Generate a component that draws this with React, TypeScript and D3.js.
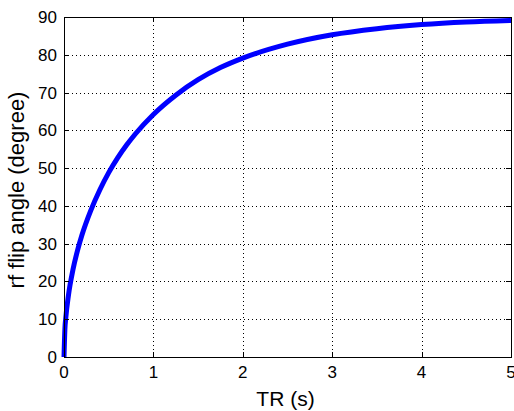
import React, { useEffect, useRef } from 'react';
import * as d3 from 'd3';

// TR (s) and flip angle (degree)
const trValues = [0, 0.01, 0.02, 0.05, 0.1, 0.15, 0.2, 0.3, 0.4, 0.5, 0.6, 0.7, 0.8, 1.0, 1.25, 1.5, 1.75, 2.0, 2.5, 3.0, 3.5, 4.0, 4.5, 5.0];
const angleValues = [0, 7.4, 10.4, 16.4, 23.1, 28.1, 32.2, 38.8, 44.2, 48.8, 52.7, 56.1, 59.1, 64.2, 69.3, 73.4, 76.6, 79.1, 82.8, 85.3, 86.9, 88.0, 88.7, 89.1];
const xTicks = [0, 1, 2, 3, 4, 5];
const yTicks = [0, 10, 20, 30, 40, 50, 60, 70, 80, 90];

const App = () => {
  const svgRef = useRef<SVGSVGElement>(null);

  useEffect(() => {
    const W = 514;
    const H = 411;
    const margin = { top: 17, right: 3, bottom: 54, left: 64 };
    const width = W - margin.left - margin.right;
    const height = H - margin.top - margin.bottom;

    const root = d3.select(svgRef.current);
    root.selectAll('*').remove();
    const svg = root.append('g').attr('transform', `translate(${margin.left},${margin.top})`);

    const x = d3.scaleLinear().domain([0, 5]).range([0, width]);
    const y = d3.scaleLinear().domain([0, 90]).range([height, 0]);
    const font = 'Liberation Sans, Arial, sans-serif';

    // dotted grid
    svg.selectAll('.gx').data(xTicks.slice(1, -1)).enter().append('line')
      .attr('x1', d => Math.round(x(d)) + 0.5).attr('x2', d => Math.round(x(d)) + 0.5)
      .attr('y1', 0).attr('y2', height)
      .attr('stroke', '#000').attr('stroke-width', 1).attr('stroke-dasharray', '1,3');
    svg.selectAll('.gy').data(yTicks.slice(1, -1)).enter().append('line')
      .attr('y1', d => Math.round(y(d)) + 0.5).attr('y2', d => Math.round(y(d)) + 0.5)
      .attr('x1', 0).attr('x2', width)
      .attr('stroke', '#000').attr('stroke-width', 1).attr('stroke-dasharray', '1,3');

    // curve
    const data = trValues.map((t, i) => ({ t, a: angleValues[i] }));
    const line = d3.line<{ t: number; a: number }>()
      .x(d => x(d.t))
      .y(d => y(d.a))
      .curve(d3.curveMonotoneX);
    svg.append('path').datum(data)
      .attr('d', line)
      .attr('fill', 'none')
      .attr('stroke', '#0000ff')
      .attr('stroke-width', 5);

    // box
    svg.append('rect')
      .attr('x', 0.5).attr('y', 0.5)
      .attr('width', width).attr('height', height)
      .attr('fill', 'none').attr('stroke', '#000').attr('stroke-width', 1);

    // inward ticks on all sides
    const tl = 5;
    xTicks.forEach(d => {
      const px = Math.round(x(d)) + 0.5;
      svg.append('line').attr('x1', px).attr('x2', px).attr('y1', height).attr('y2', height - tl).attr('stroke', '#000');
      svg.append('line').attr('x1', px).attr('x2', px).attr('y1', 0).attr('y2', tl).attr('stroke', '#000');
    });
    yTicks.forEach(d => {
      const py = Math.round(y(d)) + 0.5;
      svg.append('line').attr('x1', 0).attr('x2', tl).attr('y1', py).attr('y2', py).attr('stroke', '#000');
      svg.append('line').attr('x1', width).attr('x2', width - tl).attr('y1', py).attr('y2', py).attr('stroke', '#000');
    });

    // tick labels
    svg.selectAll('.xl').data(xTicks).enter().append('text')
      .attr('x', d => x(d)).attr('y', height + 21)
      .attr('text-anchor', 'middle')
      .attr('font-family', font).attr('font-size', 17).attr('fill', '#000')
      .text(d => d);
    svg.selectAll('.yl').data(yTicks).enter().append('text')
      .attr('x', -7).attr('y', d => y(d) + 6)
      .attr('text-anchor', 'end')
      .attr('font-family', font).attr('font-size', 17).attr('fill', '#000')
      .text(d => d);

    // axis labels
    svg.append('text')
      .attr('x', width / 2 - 2).attr('y', height + 49)
      .attr('text-anchor', 'middle')
      .attr('font-family', font).attr('font-size', 21).attr('fill', '#000')
      .text('TR (s)');
    svg.append('text')
      .attr('transform', `translate(${-40},${height / 2 + 3}) rotate(-90)`)
      .attr('text-anchor', 'middle')
      .attr('font-family', font).attr('font-size', 22).attr('fill', '#000')
      .text('rf flip angle (degree)');
  }, []);

  return (
    <svg ref={svgRef} width={514} height={411}
      style={{ position: 'absolute', left: 0, top: 0, background: '#fff' }} />
  );
};

export default App;
